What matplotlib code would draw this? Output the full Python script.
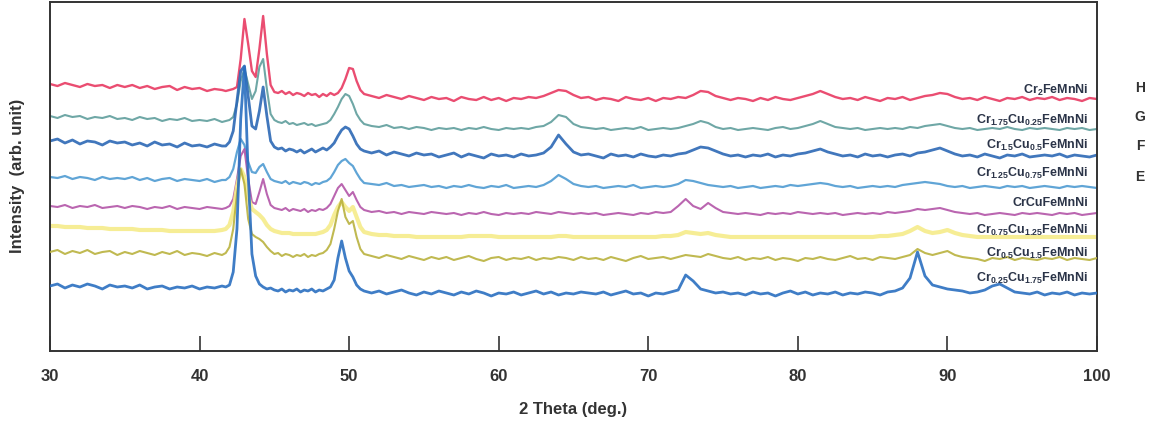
import numpy as np
import matplotlib
matplotlib.use("Agg")
from matplotlib import pyplot as plt

plt.rcParams['font.family'] = ['Liberation Sans Narrow', 'Liberation Sans', 'DejaVu Sans']
plt.rcParams['mathtext.default'] = 'regular'

# 2-theta sampling: 0.5 deg steps, 0.25 deg steps through the main peak region
two_theta = np.concatenate([np.arange(30, 41.6, 0.5),
                            np.arange(41.75, 51.1, 0.25),
                            np.arange(51.5, 100.1, 0.5)])

labels = [r'Cr$_{2}$FeMnNi',
          r'Cr$_{1.75}$Cu$_{0.25}$FeMnNi',
          r'Cr$_{1.5}$Cu$_{0.5}$FeMnNi',
          r'Cr$_{1.25}$Cu$_{0.75}$FeMnNi',
          r'CrCuFeMnNi',
          r'Cr$_{0.75}$Cu$_{1.25}$FeMnNi',
          r'Cr$_{0.5}$Cu$_{1.5}$FeMnNi',
          r'Cr$_{0.25}$Cu$_{1.75}$FeMnNi']

# vertical stacking offsets for each pattern
offsets = [252, 222, 195, 164, 137, 114, 92, 57]
label_y = [262, 232, 207, 179, 149, 122, 99, 74]
side_letters = ['H', 'G', 'F', 'E']

cr2 = [15, 13, 16, 14, 12, 15, 13, 14, 11, 14,
       12, 14, 11, 13, 10, 12, 13, 9, 12, 10,
       11, 8, 10, 9,
       8, 9, 10, 12, 40, 80, 55, 28, 22, 50,
       83, 45, 14, 7, 6, 8, 5, 7, 4, 6,
       5, 3, 6, 4, 5, 2, 5, 3, 6, 4,
       6, 11, 20, 31, 30, 18, 9, 5,
       3, 1, 4, 2, 0, 3, 1, -1, 2, 0,
       1, -2, 2, 0, -1, 2, -1, 1, -2, 1,
       0, 2, 1, 3, 6, 9, 8, 4, 1, 2,
       -1, 1, 0, -2, 2, 0, -1, 1, -2, 1,
       0, 2, 1, 4, 8, 7, 3, 1, -1, 1,
       0, -2, 1, -1, 2, 0, -1, 1, 3, 5,
       8, 5, 2, 0, 1, -1, 2, 0, -2, 1,
       0, 2, -1, 1, 3, 4, 6, 5, 2, 0,
       1, -1, 2, 0, -2, 1, 0, 2, -1, 1,
       0, 2, -1, 1, 0, -2, 1, 0]

cr175 = [13, 11, 14, 12, 13, 10, 12, 11, 13, 10,
         11, 9, 12, 10, 11, 8, 10, 9, 11, 8,
         9, 8, 10, 7,
         8, 9, 12, 25, 48, 60, 45, 30, 38, 62,
         70, 40, 15, 9, 7, 6, 8, 5, 6, 4,
         5, 6, 4, 5, 3, 4, 5, 6, 9, 15,
         22, 30, 35, 33, 25, 15, 9, 5,
         3, 2, 4, 1, 2, 0, 2, 1, -1, 1,
         0, 1, -1, 1, 0, 2, 0, -1, 1, 0,
         1, 0, 2, 3, 7, 14, 12, 5, 2, 1,
         0, 1, -1, 0, 1, 0, 2, -1, 0, 1,
         0, 1, 3, 5, 8, 6, 2, 0, 1, -1,
         0, 1, 0, -1, 1, 2, 0, 1, 3, 5,
         8, 5, 2, 1, 0, 1, -1, 0, 1, 0,
         1, 0, 2, 1, 3, 4, 5, 3, 1, 0,
         1, -1, 0, 1, 0, 2, 0, -1, 1, 0,
         1, 0, -1, 1, 0, 1, -1, 0]

cr15 = [15, 17, 13, 16, 12, 15, 14, 11, 15, 13,
        14, 11, 13, 10, 14, 11, 12, 9, 13, 10,
        11, 9, 12, 10,
        10, 14, 25, 55, 85, 90, 60, 30, 27, 45,
        69, 40, 15, 9, 7, 8, 5, 7, 6, 4,
        6, 3, 5, 7, 4, 6, 8, 6, 9, 13,
        20, 26, 29, 27, 20, 12, 7, 5,
        3, 5, 1, 4, 2, 0, 3, 1, 2, -1,
        1, 3, -1, 2, 0, -2, 2, 0, 1, -1,
        2, 0, 1, 3, 9, 21, 12, 4, 1, 2,
        0, -2, 2, 0, 1, -1, 2, 0, -1, 1,
        0, 2, 3, 6, 9, 8, 5, 2, 0, 1,
        -1, 1, 0, 2, -1, 1, 0, 2, 3, 5,
        7, 4, 2, 0, 1, -1, 2, 0, 1, -1,
        1, 2, 0, 3, 4, 6, 8, 5, 2, 0,
        1, -1, 2, 0, -2, 1, 0, 2, -1, 0,
        1, 0, 2, -1, 1, 0, -1, 1]

cr125 = [10, 9, 11, 8, 10, 9, 7, 10, 8, 9,
         8, 10, 7, 9, 6, 8, 9, 6, 8, 7,
         6, 8, 5, 7,
         7, 10, 18, 35, 48, 42, 25, 15, 14, 20,
         23, 15, 8, 6, 5, 4, 6, 3, 5, 4,
         3, 5, 4, 2, 4, 3, 5, 6, 9, 15,
         22, 26, 28, 24, 21, 14, 8, 4,
         3, 2, 4, 1, 2, 0, 1, 2, 0, 1,
         -1, 1, 0, 2, 0, -1, 1, 0, 2, -1,
         0, 1, 0, 2, 6, 12, 8, 3, 1, 0,
         1, -1, 0, 1, 0, 2, -1, 0, 1, 0,
         1, 3, 7, 6, 4, 2, 1, 0, 1, -1,
         0, 1, -1, 0, 1, 0, 2, 1, 2, 3,
         4, 3, 1, 0, 1, -1, 0, 1, 0, 1,
         0, 2, 3, 4, 5, 4, 3, 1, 0, 1,
         -1, 0, 1, 0, -1, 1, 0, 1, -1, 0,
         1, 0, -1, 1, 0, 1, 0, -1]

cr1 = [8, 7, 9, 6, 8, 7, 9, 6, 7, 8,
       6, 8, 7, 5, 7, 6, 8, 5, 7, 6,
       5, 7, 6, 5,
       6, 8, 15, 35, 58, 65, 35, 12, 10, 22,
       35, 20, 9, 6, 5, 4, 6, 3, 5, 4,
       3, 5, 2, 4, 3, 5, 4, 6, 10, 18,
       26, 30, 24, 18, 22, 14, 7, 4,
       2, 3, 1, 2, 0, 2, 1, 0, 2, 1,
       0, 1, -1, 1, 0, 2, 0, -1, 1, 0,
       1, 0, 2, 1, 0, 2, 1, 0, 1, 0,
       1, -1, 0, 1, 0, -1, 1, 0, 2, 1,
       2, 8, 15, 8, 5, 11, 6, 2, 1, 0,
       1, 0, -1, 1, 0, 1, 0, 2, 1, 0,
       1, 0, 1, -1, 0, 1, 0, 1, 0, 2,
       1, 2, 3, 5, 4, 5, 6, 4, 2, 1,
       0, 1, -1, 0, 1, 0, -1, 1, 0, 1,
       0, -1, 1, 0, 1, -1, 0, 1]

cr075 = [11, 11, 10, 10, 10, 9, 9, 9, 8, 8,
         8, 8, 7, 7, 7, 7, 6, 6, 6, 6,
         6, 6, 6, 7,
         8, 12, 25, 50, 68, 60, 40, 28, 25, 22,
         18, 12, 8, 6, 5, 4, 4, 4, 3, 3,
         3, 3, 3, 3, 3, 4, 5, 7, 12, 22,
         30, 35, 30, 26, 30, 20, 10, 5,
         3, 2, 2, 1, 1, 1, 0, 0, 0, 0,
         0, 0, 0, 1, 1, 1, 1, 0, 0, 0,
         0, 0, 0, 0, 0, 1, 1, 0, 0, 0,
         0, 0, 0, 0, 0, 0, 0, 0, 0, 1,
         1, 2, 5, 4, 3, 4, 2, 1, 0, 0,
         0, 0, 0, 0, 0, 0, 0, 0, 0, 0,
         0, 0, 0, 0, 0, 0, 0, 0, 1, 1,
         2, 3, 6, 10, 6, 4, 5, 7, 4, 2,
         1, 0, 0, 0, 0, 0, 0, 0, 0, 0,
         0, 0, 0, 0, 0, 0, 0, 0]

cr05 = [7, 9, 5, 8, 6, 9, 5, 7, 8, 4,
        7, 5, 8, 6, 4, 7, 5, 8, 4, 6,
        5, 3, 6, 4,
        6, 12, 30, 65, 90, 75, 40, 25, 22, 20,
        17, 12, 8, 5, 6, 3, 5, 4, 2, 4,
        3, 5, 2, 4, 3, 5, 6, 9, 15, 30,
        48, 60, 42, 35, 38, 22, 10, 5,
        3, 1, 4, 2, 0, 3, 1, -1, 2, 0,
        2, -1, 1, 3, 0, -2, 1, 2, -1, 1,
        0, 2, -1, 1, 0, 2, 1, -1, 2, 0,
        1, -1, 2, 0, -2, 1, 3, 0, 1, 2,
        0, 2, 4, 3, 2, 5, 3, 1, 0, 2,
        -1, 1, 0, 2, -1, 1, 0, -2, 1, 0,
        2, 0, -1, 1, 3, 0, 1, -1, 2, 1,
        0, 2, 4, 10, 6, 4, 6, 8, 4, 2,
        1, 0, -2, 1, 0, 2, -1, 1, 0, -1,
        1, 0, 2, -1, 1, 0, -1, 1]

cr025 = [8, 10, 6, 9, 7, 10, 8, 5, 9, 7,
         8, 6, 9, 5, 7, 8, 5, 7, 6, 8,
         5, 7, 6, 8,
         7, 9, 22, 65, 175, 227, 120, 40, 18, 10,
         7, 5, 6, 4, 3, 5, 2, 4, 3, 5,
         2, 4, 3, 5, 2, 4, 3, 5, 7, 14,
         36, 53, 36, 23, 17, 9, 5, 3,
         1, 3, 0, 2, 4, 1, -1, 2, 0, 3,
         1, -1, 2, 0, 3, 1, -2, 1, 0, 2,
         -1, 1, 3, 0, 2, -1, 1, 0, 2, 1,
         0, 2, -1, 1, 3, 0, 1, -2, 1, 0,
         2, 4, 19, 13, 5, 3, 1, 2, 0, 1,
         -1, 2, 0, 1, -2, 1, 3, 0, 2, -1,
         1, 0, 2, -1, 1, 0, 2, 1, -1, 2,
         3, 6, 16, 42, 18, 9, 7, 5, 4, 3,
         1, 2, 4, 8, 10, 6, 2, 1, 0, 2,
         -1, 1, 0, 2, -1, 1, 0, 1]

patterns = [cr2, cr175, cr15, cr125, cr1, cr075, cr05, cr025]
colors = ['#e83a62', '#5f9e9c', '#2c68b5', '#4f9bd2',
          '#b355a8', '#f6ec8a', '#b9b23e', '#2a6fc0']
widths = [1.7, 1.5, 2.0, 1.6, 1.5, 3.0, 1.5, 2.0]

fig = plt.figure(figsize=(11.55, 4.27), dpi=100)
ax = fig.add_axes([50 / 1155, 75 / 427, 1047 / 1155, 349 / 427])

for i in range(len(patterns)):
    y = np.array(patterns[i], dtype=float) + offsets[i]
    ax.plot(two_theta, y, color=colors[i], linewidth=widths[i], alpha=0.9,
            zorder=2 + i * 0.1)
    ax.text(99.4, label_y[i], labels[i], ha='right', va='center',
            fontsize=9, fontweight='bold', color='#2b3448', zorder=5)

ax.set_xlim(30, 100)
ax.set_ylim(0, 349)
ax.set_xticks(range(30, 101, 10))
ax.set_yticks([])
ax.tick_params(axis='x', direction='in', length=11, width=1.2, color='#333333',
               pad=12, labelsize=12, labelcolor='#333333')
for lbl in ax.get_xticklabels():
    lbl.set_fontweight('bold')
for sp in ax.spines.values():
    sp.set_color('#333333')
    sp.set_linewidth(1.4)

fig.text(573 / 1155, 1 - 410 / 427, '2 Theta (deg.)', ha='center', va='center',
         fontsize=12, fontweight='bold', color='#333333')
fig.text(18 / 1155, 1 - 176 / 427, 'Intensity  (arb. unit)', ha='center', va='center',
         rotation=90, fontsize=12, fontweight='bold', color='#333333')

letter_py = [88, 117, 146, 177]
for letter, py in zip(side_letters, letter_py):
    fig.text(1140 / 1155, 1 - py / 427, letter, ha='center', va='center',
             fontsize=10, fontweight='bold', color='#333333', family='Liberation Sans')

fig.savefig('out.png', dpi=100)
